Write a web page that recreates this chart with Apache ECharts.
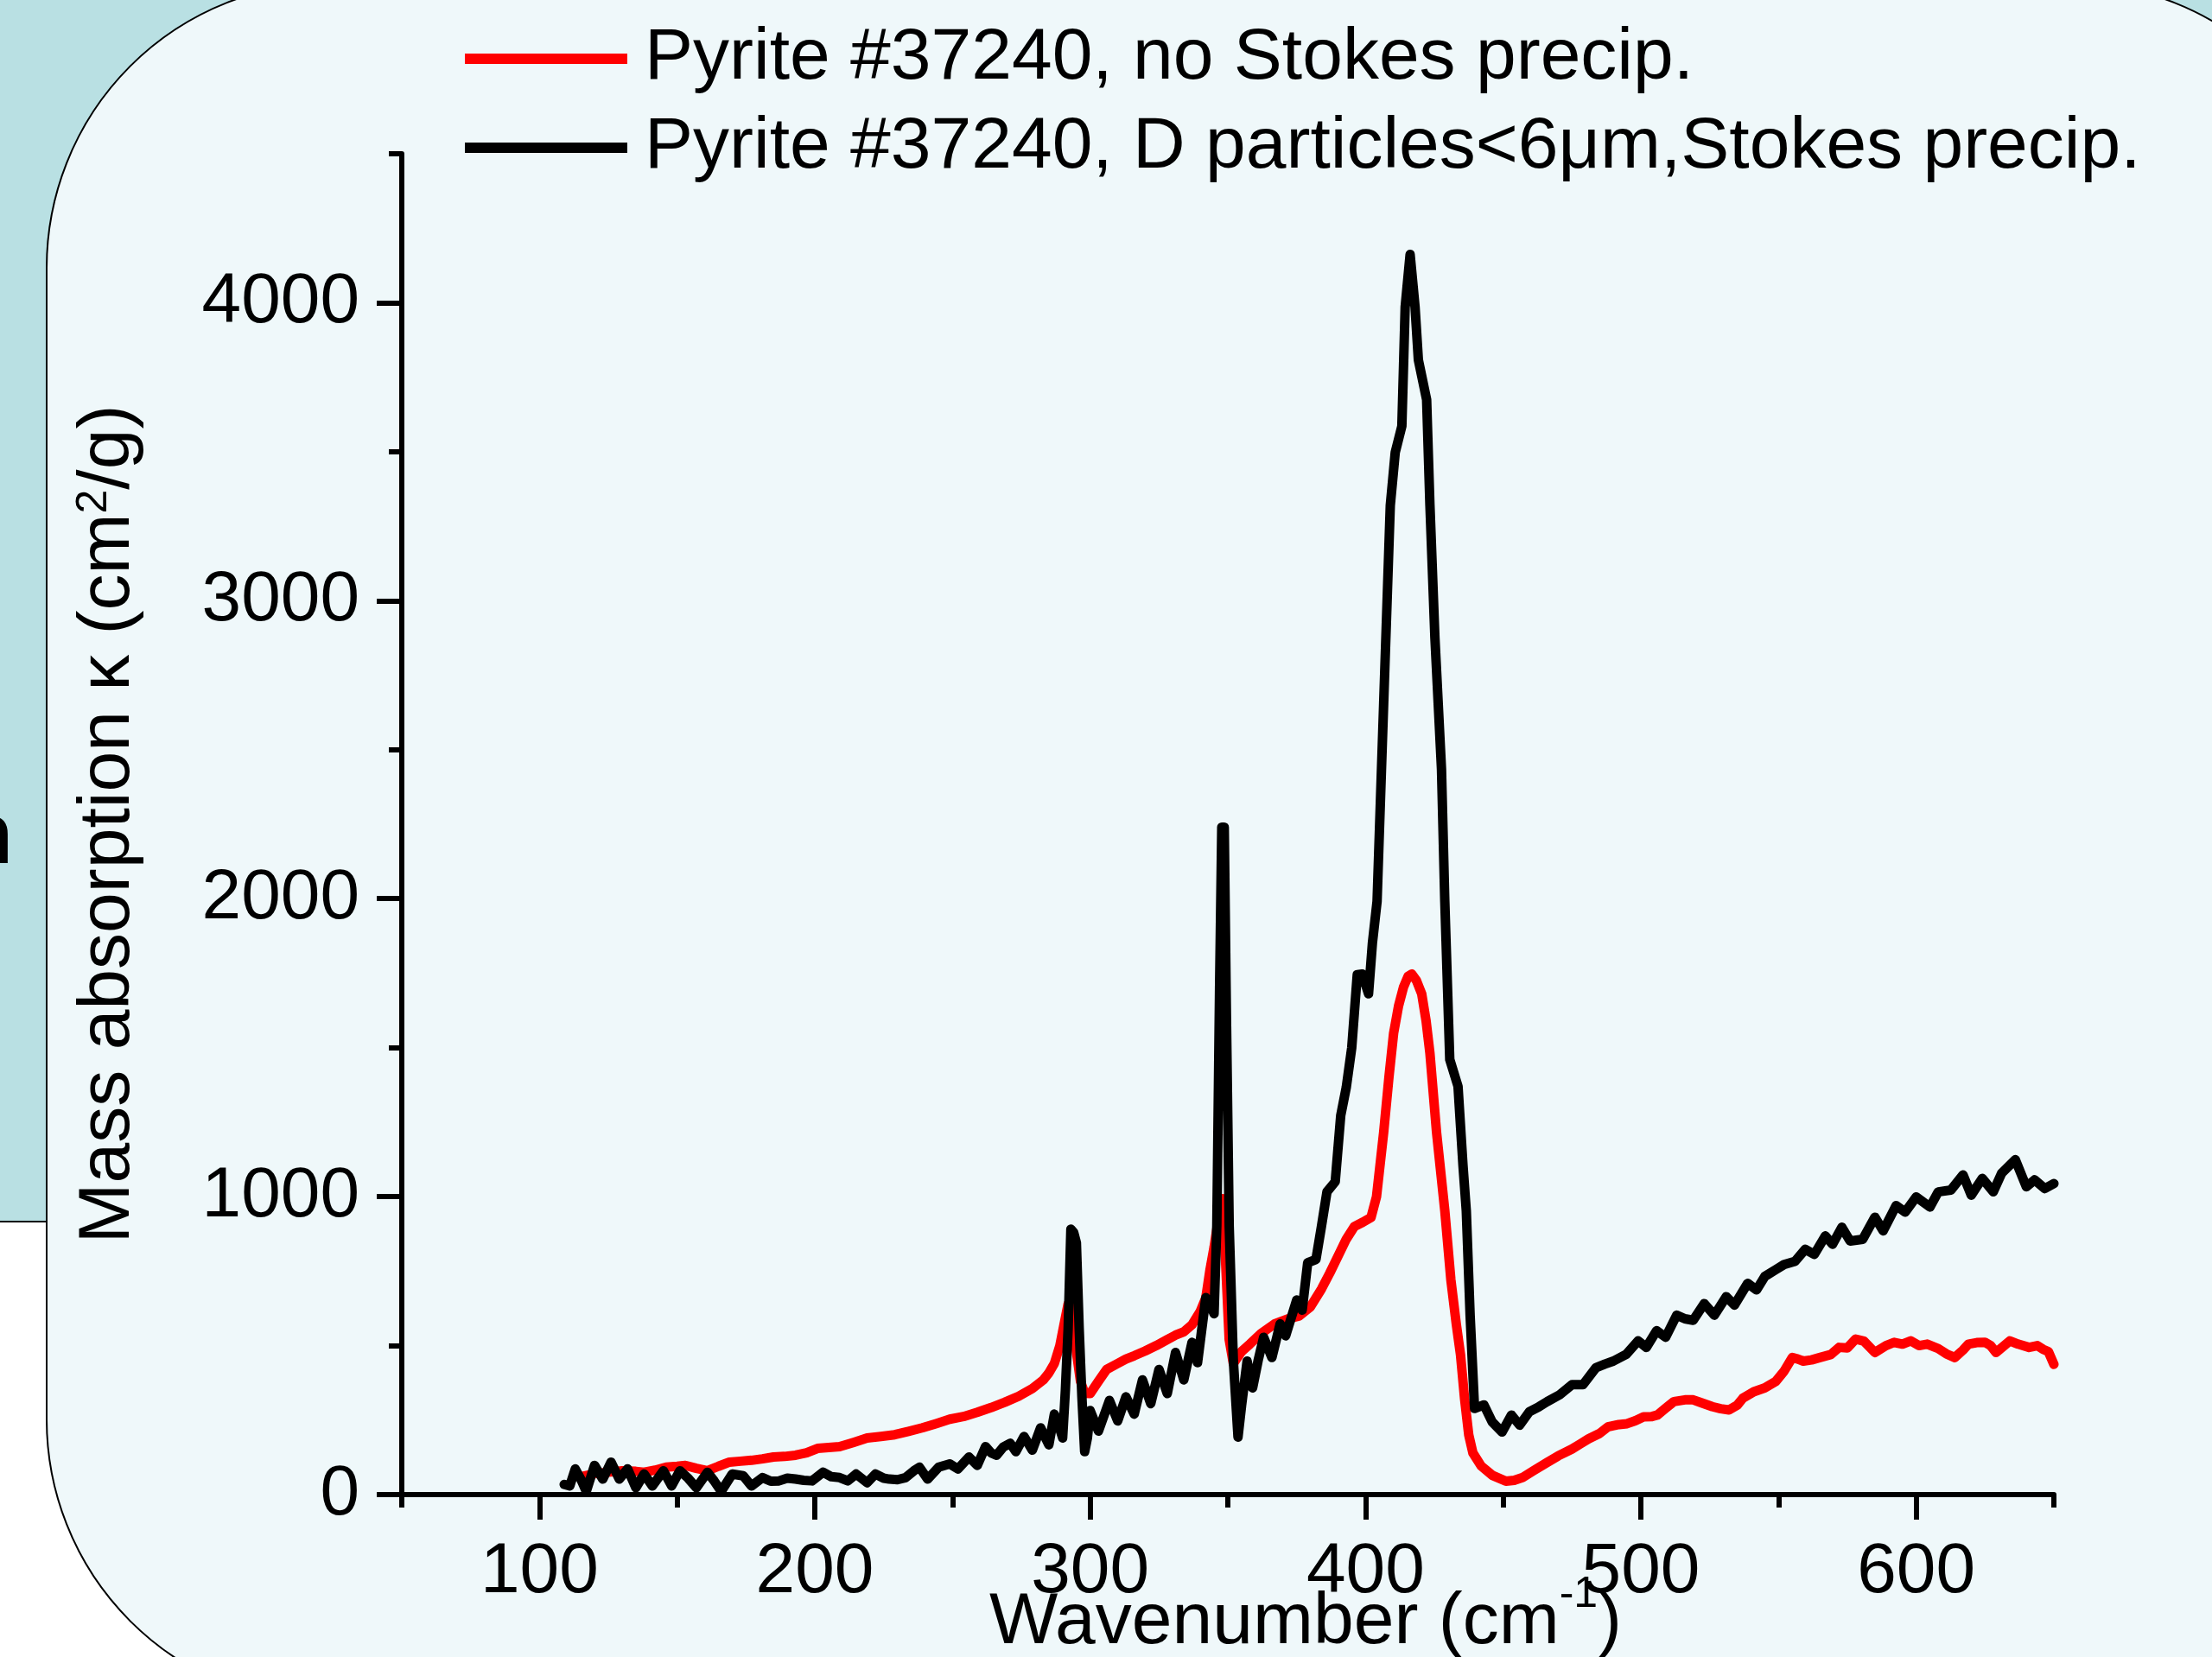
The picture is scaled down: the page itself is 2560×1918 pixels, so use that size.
<!DOCTYPE html>
<html>
<head>
<meta charset="utf-8">
<script src="https://cdn.jsdelivr.net/npm/echarts@6/dist/echarts.min.js"></script>
<style>
  html, body { margin: 0; padding: 0; background: #fff; }
  #chart { width: 2560px; height: 1918px; }
</style>
</head>
<body>
<div id="chart"></div>
<script>
const FONT = "'Liberation Sans', Arial, sans-serif";

const seriesNames = [
  'Pyrite #37240, no Stokes precip.',
  'Pyrite #37240, D particles<6\u03bcm,Stokes precip.'
];

// no Stokes precip. (red)
const redWavenumber = [115, 120, 125, 130, 135, 138, 142, 146, 150, 153, 157, 161, 165, 169, 173, 177, 181, 185, 189, 193,
  197, 201, 205, 209, 214, 219, 224, 229, 234, 239, 244, 249, 254, 259, 264, 269, 274, 279, 283, 285,
  287, 289, 290.5, 292, 293.5, 295, 296.5, 298, 300, 303, 306, 310, 313, 316, 320, 324, 328, 331, 334, 337,
  340, 342, 343.5, 345, 346.5, 348, 349, 350.5, 352, 355, 358, 362, 367, 372, 376, 380, 384, 387, 390, 393,
  396, 399, 402, 404, 406.6, 408.5, 410.2, 412, 413.8, 415.5, 416.8, 418.5, 420.4, 422, 423.4, 425.8, 428.8, 431, 433, 434.5,
  436, 437.5, 439, 442, 446, 451, 454, 457, 461, 466, 470, 475, 478, 481, 485, 488, 492, 495, 498, 501,
  504, 506, 509, 512, 516, 519, 522, 526, 529, 532, 535, 537, 541, 545, 549, 552, 555, 557, 559, 562,
  565, 569, 572, 575, 578, 581, 585, 589, 592, 595, 598, 601, 604, 608, 611, 614, 617, 619, 622, 625,
  627, 629, 632, 634, 637, 641, 644, 646, 648, 650];
const redKappa = [60, 70, 75, 80, 78, 75, 82, 92, 95, 98, 88, 80, 95, 109, 112, 115, 120, 126, 128, 132,
  140, 155, 158, 161, 175, 190, 195, 201, 212, 224, 238, 253, 262, 276, 292, 310, 330, 356, 385, 408,
  440, 500, 570, 640, 620, 480, 380, 340, 339, 380, 420, 440, 455, 466, 482, 500, 520, 535, 546, 570,
  615, 660, 753, 830, 920, 993, 820, 520, 440, 480, 505, 540, 573, 590, 600, 630, 690, 743, 800, 857,
  900, 914, 930, 1000, 1216, 1400, 1548, 1640, 1703, 1740, 1747, 1725, 1681, 1590, 1481, 1216, 953, 721, 570, 470,
  320, 200, 140, 96, 65, 45, 48, 57, 80, 108, 130, 153, 170, 187, 205, 227, 235, 238, 248, 261,
  262, 267, 290, 312, 318, 318, 308, 295, 288, 284, 300, 323, 345, 358, 380, 414, 460, 455, 448, 452,
  460, 470, 494, 492, 522, 515, 477, 500, 511, 505, 516, 500, 505, 490, 472, 460, 485, 505, 510, 511,
  500, 477, 500, 516, 505, 494, 500, 488, 480, 437];

// D particles < 6 um, Stokes precip. (black)
const blackWavenumber = [109, 111, 113, 115, 117, 120, 123, 126, 129, 132, 135, 138, 141, 145, 148, 151, 154, 157, 161, 163.5,
  166, 170, 174, 177, 181, 184, 187, 190, 193, 196, 199, 203, 206, 209, 212, 215, 219, 222, 225, 227,
  230, 233, 236, 238, 241, 245, 249, 252, 256, 259, 262, 264, 266, 268.5, 271, 273, 276, 279, 282, 285,
  287, 289, 290, 291, 292, 293, 294, 295, 296, 297, 298, 299, 300, 303, 307, 310, 313, 316, 319, 322,
  325, 328, 331, 334, 337, 339, 342, 343.5, 345, 346, 347, 347.8, 348.7, 349.5, 350.5, 352, 353.7, 355, 357, 359,
  361, 363, 366, 369, 371, 375, 377, 379, 382, 384, 386, 389, 391, 393, 395, 397, 398.8, 401.1, 402.5, 404.2,
  406.6, 409, 410.8, 413.2, 414.4, 416.2, 418, 419.2, 422.2, 423.4, 425.2, 427.6, 428.8, 430.6, 433.6, 435.4, 436.6, 438, 439.6, 443,
  446, 449.6, 453, 456, 459.5, 463, 466, 470.5, 475, 479, 483.7, 487, 490, 494.7, 499, 502, 505.7, 509, 513, 516,
  519, 523, 526.7, 531, 534, 538.8, 542, 545, 549, 552, 556, 559.7, 563, 567, 569.6, 573, 576, 580.6, 585, 588,
  592.7, 596, 600, 605, 608, 612.6, 617, 620, 624, 628, 631, 636, 640, 643, 646.7, 650];
const blackKappa = [34, 29, 86, 52, 11, 98, 52, 109, 52, 86, 23, 69, 29, 80, 29, 80, 55, 23, 75, 45,
  11, 69, 63, 29, 57, 45, 46, 55, 52, 48, 46, 75, 60, 57, 46, 69, 40, 69, 55, 52,
  50, 57, 80, 92, 52, 92, 103, 86, 126, 98, 161, 140, 132, 160, 172, 144, 195, 149, 224, 167,
  270, 220, 190, 350, 557, 891, 880, 845, 560, 328, 144, 190, 282, 213, 316, 247, 328, 270, 385, 305,
  420, 339, 477, 385, 511, 443, 661, 640, 607, 902, 1700, 2240, 2240, 1600, 900, 450, 193, 300, 448, 358,
  450, 528, 460, 573, 533, 653, 619, 778, 789, 900, 1016, 1050, 1272, 1366, 1500, 1745, 1747, 1681, 1850, 1991,
  2656, 3320, 3498, 3586, 3985, 4162, 3985, 3808, 3675, 3320, 2877, 2434, 1991, 1460, 1370, 1105, 953, 600, 289, 301,
  244, 210, 267, 233, 278, 295, 312, 335, 369, 369, 426, 438, 448, 471, 516, 494, 550, 528, 602, 590,
  585, 641, 602, 664, 636, 709, 687, 732, 755, 772, 783, 823, 806, 868, 840, 897, 851, 857, 931, 885,
  970, 948, 999, 965, 1016, 1022, 1073, 1005, 1061, 1016, 1078, 1124, 1033, 1056, 1027, 1044];

const xMajorTicks = [100, 200, 300, 400, 500, 600];
const xMinorTicks = [50, 150, 250, 350, 450, 550, 650];
const yMajorTicks = [0, 1000, 2000, 3000, 4000];
const yMinorTicks = [500, 1500, 2500, 3500, 4500];

const redData = redWavenumber.map((x, i) => [x, redKappa[i]]);
const blackData = blackWavenumber.map((x, i) => [x, blackKappa[i]]);

const chart = echarts.init(document.getElementById('chart'), null, { renderer: 'canvas' });

const axisLineStyle = { color: '#000', width: 6 };
const plainNumber = v => String(v);

chart.setOption({
  backgroundColor: '#ffffff',
  animation: false,
  graphic: [
    // slide background pieces
    { type: 'rect', z: -30, shape: { x: 0, y: 0, width: 2560, height: 1414 }, style: { fill: '#b9e0e3' } },
    { type: 'line', z: -29, shape: { x1: 0, y1: 1414, x2: 60, y2: 1414 }, style: { stroke: '#000', lineWidth: 2 } },
    { type: 'text', z: -28, style: { text: 'n', x: -46, y: 1021, font: 'bold 100px ' + FONT, fill: '#000', verticalAlign: 'bottom' } },
    {
      type: 'rect', z: -20,
      shape: { x: 54, y: -20, width: 2671, height: 1993, r: 330 },
      style: { fill: '#eff8fa', stroke: '#000', lineWidth: 2 }
    }
  ],
  legend: {
    orient: 'vertical',
    left: 538,
    top: 26,
    itemWidth: 188,
    itemHeight: 12,
    itemGap: 19,
    padding: 0,
    textStyle: { fontSize: 84, color: '#000', fontFamily: FONT, padding: [0, 0, 0, 15] },
    data: [
      { name: seriesNames[0], icon: 'rect' },
      { name: seriesNames[1], icon: 'rect' }
    ]
  },
  grid: {
    left: 465, right: 183, top: 178, bottom: 188,
    containLabel: false,
    outerBoundsMode: 'none'
  },
  xAxis: [
    {
      type: 'value', min: 50, max: 650,
      axisLine: { lineStyle: axisLineStyle },
      axisTick: { customValues: xMajorTicks, length: 29, lineStyle: { color: '#000', width: 6 } },
      axisLabel: { customValues: xMajorTicks, formatter: plainNumber, fontSize: 82, color: '#000', fontFamily: FONT, margin: 49 },
      splitLine: { show: false },
      name: '{t|Wavenumber (cm}{sup|-1}{t|)}',
      nameLocation: 'middle',
      nameGap: 107,
      nameMoveOverlap: false,
      nameTextStyle: {
        padding: [0, 0, 0, 180],
        rich: {
          t: { fontSize: 84, fontFamily: FONT, color: '#000', lineHeight: 84 },
          sup: { fontSize: 50, fontFamily: FONT, color: '#000', height: 18, lineHeight: 18, verticalAlign: 'top' }
        }
      }
    },
    {
      type: 'value', min: 50, max: 650, position: 'bottom',
      axisLine: { show: false },
      axisTick: { customValues: xMinorTicks, length: 15, lineStyle: { color: '#000', width: 6 } },
      axisLabel: { show: false },
      splitLine: { show: false }
    }
  ],
  yAxis: [
    {
      type: 'value', min: 0, max: 4500,
      axisLine: { show: true, lineStyle: axisLineStyle },
      axisTick: { show: true, customValues: yMajorTicks, length: 29, lineStyle: { color: '#000', width: 6 } },
      axisLabel: { customValues: yMajorTicks, formatter: plainNumber, fontSize: 82, color: '#000', fontFamily: FONT, margin: 49 },
      splitLine: { show: false },
      name: '{t|Mass absorption \u03ba (cm}{sup|2}{t|/g)}',
      nameLocation: 'middle',
      nameRotate: 90,
      nameGap: 297,
      nameMoveOverlap: false,
      nameTextStyle: {
        rich: {
          t: { fontSize: 84, fontFamily: FONT, color: '#000', lineHeight: 84 },
          sup: { fontSize: 50, fontFamily: FONT, color: '#000', lineHeight: 20, verticalAlign: 'top' }
        }
      }
    },
    {
      type: 'value', min: 0, max: 4500, position: 'left',
      axisLine: { show: false },
      axisTick: { show: true, customValues: yMinorTicks, length: 15, lineStyle: { color: '#000', width: 6 } },
      axisLabel: { show: false },
      splitLine: { show: false }
    }
  ],
  series: [
    {
      name: seriesNames[0], type: 'line', xAxisIndex: 0, yAxisIndex: 0,
      data: redData, symbol: 'none', z: 3,
      lineStyle: { color: '#ff0000', width: 11, join: 'round', cap: 'round' },
      itemStyle: { color: '#ff0000' }
    },
    {
      name: seriesNames[1], type: 'line', xAxisIndex: 0, yAxisIndex: 0,
      data: blackData, symbol: 'none', z: 4,
      lineStyle: { color: '#000000', width: 11, join: 'round', cap: 'round' },
      itemStyle: { color: '#000000' }
    }
  ]
});
</script>
</body>
</html>
